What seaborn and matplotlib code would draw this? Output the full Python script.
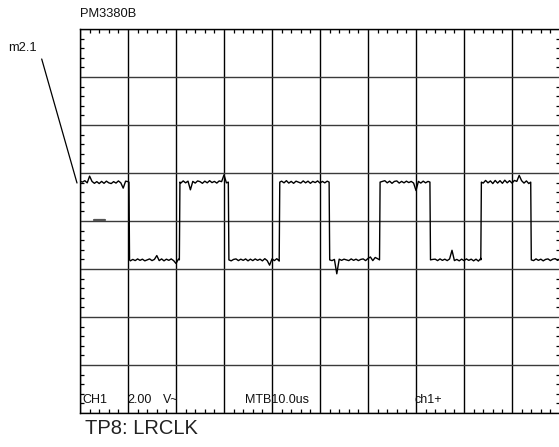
"""Scope capture TP8: LRCLK (PM3380B screen, CH1 2.00 V/div AC, MTB 10.0 us/div)."""

from __future__ import annotations

import matplotlib

matplotlib.use("Agg")

import matplotlib.pyplot as plt
import numpy as np
import pandas as pd
import seaborn as sns
from matplotlib.lines import Line2D

# --------------------------------------------------------------------------- #
# Data (time in us, level in V)
# --------------------------------------------------------------------------- #
HIGH_V = 1.62
LOW_V = -1.62
START_HIGH = True

# edge instants, alternating falling / rising
edge_times = [10.2, 20.7, 30.9, 41.5, 51.9, 62.4, 72.9, 83.5, 93.9]

# ripple sampled every 0.5 us from 0 to 100 us (glitches included)
ripple = [
    0.04, 0.00, 0.06, -0.03, 0.25, 0.03, -0.05, 0.02, -0.06, 0.03,
    -0.05, 0.04, -0.03, -0.06, 0.02, -0.04, 0.05, -0.03, -0.25, 0.04,
    0.02, -0.04, 0.02, -0.03, 0.04, -0.02, 0.03, -0.04, 0.00, 0.04,
    -0.03, 0.02, 0.18, -0.03, 0.04, -0.04, 0.03, -0.02, 0.04, -0.03,
    -0.15, 0.03, -0.04, 0.05, -0.03, 0.04, -0.32, 0.03, -0.04, 0.05,
    0.02, -0.05, 0.04, -0.03, 0.06, -0.02, 0.03, -0.04, 0.05, 0.02,
    0.30, -0.03, 0.03, -0.04, 0.02, 0.04, -0.03, 0.03, -0.02, 0.04,
    -0.04, 0.03, -0.03, 0.04, -0.02, 0.03, -0.04, 0.05, -0.03, -0.22,
    0.04, -0.03, 0.05, -0.05, 0.04, -0.03, 0.06, -0.04, 0.03, -0.05,
    0.04, 0.00, -0.04, 0.05, -0.03, 0.04, -0.05, 0.03, -0.02, 0.05,
    -0.04, 0.03, -0.03, 0.04, 0.03, -0.03, 0.02, -0.58, 0.03, -0.02,
    0.03, 0.00, -0.03, 0.04, -0.02, 0.03, -0.03, 0.02, 0.04, -0.03,
    0.06, 0.12, -0.03, 0.10, 0.05, -0.04, 0.03, 0.06, -0.03, 0.04,
    -0.05, 0.03, 0.05, -0.04, 0.03, -0.03, 0.04, -0.02, 0.03, -0.04,
    -0.35, 0.03, -0.04, 0.04, -0.03, 0.03, -0.04, 0.02, 0.03, -0.03,
    0.04, -0.02, 0.03, -0.03, 0.04, 0.40, -0.03, 0.02, -0.04, 0.03,
    -0.03, 0.04, -0.02, 0.03, -0.04, 0.03, -0.05, 0.06, -0.04, 0.07,
    -0.03, 0.05, -0.06, 0.07, -0.04, 0.06, -0.05, 0.08, -0.03, 0.06,
    -0.04, 0.07, 0.03, 0.28, 0.06, -0.04, 0.05, -0.06, 0.03, -0.03,
    0.04, -0.02, 0.03, -0.04, 0.02, 0.04, -0.03, 0.03, 0.05, -0.02,
    0.04,
]
RIPPLE_STEP_US = 0.5
RISE_US = 0.12

# ground-level marker on the left of the screen
gnd_marker_t = [2.9, 5.2]
gnd_marker_v = [0.06, 0.06]

# screen annotations: (text, time us, level V)
readouts = [
    ("CH1", 0.4, -7.45),
    ("2.00", 9.8, -7.45),
    ("V~", 17.3, -7.45),
    ("MTB10.0us", 34.4, -7.45),
    ("ch1+", 69.6, -7.45),
]

X_DIV = 10.0  # us per division
Y_DIV = 2.0   # V per division
N_XDIV, N_YDIV = 10, 8

FONT = ["Liberation Sans", "DejaVu Sans"]


# --------------------------------------------------------------------------- #
# Build trace
# --------------------------------------------------------------------------- #
def build_trace() -> pd.DataFrame:
    levels = [HIGH_V, LOW_V] if START_HIGH else [LOW_V, HIGH_V]
    t_samples = np.arange(len(ripple)) * RIPPLE_STEP_US
    rows = []
    for t, r in zip(t_samples, ripple):
        n_edges = sum(t >= te + RISE_US for te in edge_times)
        if any(te < t < te + RISE_US for te in edge_times):
            continue
        rows.append((t, levels[n_edges % 2] + r))
    for k, te in enumerate(edge_times):
        rows.append((te, levels[k % 2]))
        rows.append((te + RISE_US, levels[(k + 1) % 2]))
    df = pd.DataFrame(rows, columns=["t", "v"]).sort_values("t", kind="stable")
    return df.reset_index(drop=True)


# --------------------------------------------------------------------------- #
# Plot
# --------------------------------------------------------------------------- #
sns.set_theme(style="white")
plt.rcParams["font.family"] = FONT

W, H = 559, 447
fig = plt.figure(figsize=(W / 100, H / 100), dpi=100)
ax = fig.add_axes([80 / W, (H - 413) / H, 480 / W, 384 / H])

trace = build_trace()
sns.lineplot(data=trace, x="t", y="v", ax=ax, color="black", lw=1.0,
             sort=False, estimator=None, zorder=5)
ax.plot(gnd_marker_t, gnd_marker_v, color="#555555", lw=1.6, zorder=4)

ax.set_xlim(0, N_XDIV * X_DIV)
ax.set_ylim(-N_YDIV / 2 * Y_DIV, N_YDIV / 2 * Y_DIV)
ax.set_xticks(np.arange(0, N_XDIV + 1) * X_DIV)
ax.set_yticks(np.arange(-N_YDIV / 2, N_YDIV / 2 + 1) * Y_DIV)
ax.set_xticks(np.arange(0, N_XDIV * 5 + 1) * X_DIV / 5, minor=True)
ax.set_yticks(np.arange(-N_YDIV / 2 * 5, N_YDIV / 2 * 5 + 1) * Y_DIV / 5, minor=True)
ax.tick_params(which="major", length=0, labelbottom=False, labelleft=False)
ax.tick_params(which="minor", direction="in", length=3.0, width=0.9,
               color="black", top=True, right=True, bottom=True, left=True)
ax.xaxis.grid(True, which="major", color="black", lw=1.0)
ax.yaxis.grid(True, which="major", color="#3a3a3a", lw=1.0)
ax.set_xlabel("")
ax.set_ylabel("")
for sp in ax.spines.values():
    sp.set_visible(True)
    sp.set_color("black")
    sp.set_linewidth(1.0)

for txt, t, v in readouts:
    ax.text(t, v, txt, fontsize=9, color="#111111", ha="left", va="center",
            family=FONT, zorder=6)

fig.text(80 / W, 1 - 14 / H, "PM3380B", fontsize=9.3, color="#111111",
         ha="left", va="center", family=FONT)
fig.text(8 / W, 1 - 48 / H, "m2.1", fontsize=9.3, color="#111111",
         ha="left", va="center", family=FONT)
fig.add_artist(Line2D([41.7 / W, 77 / W], [1 - 59 / H, 1 - 183 / H],
                      color="black", lw=0.9, transform=fig.transFigure))
fig.text(85 / W, 1 - 429 / H, "TP8: LRCLK", fontsize=14.5, color="#222222",
         ha="left", va="center", family=FONT)

fig.savefig("out.png", dpi=100)
